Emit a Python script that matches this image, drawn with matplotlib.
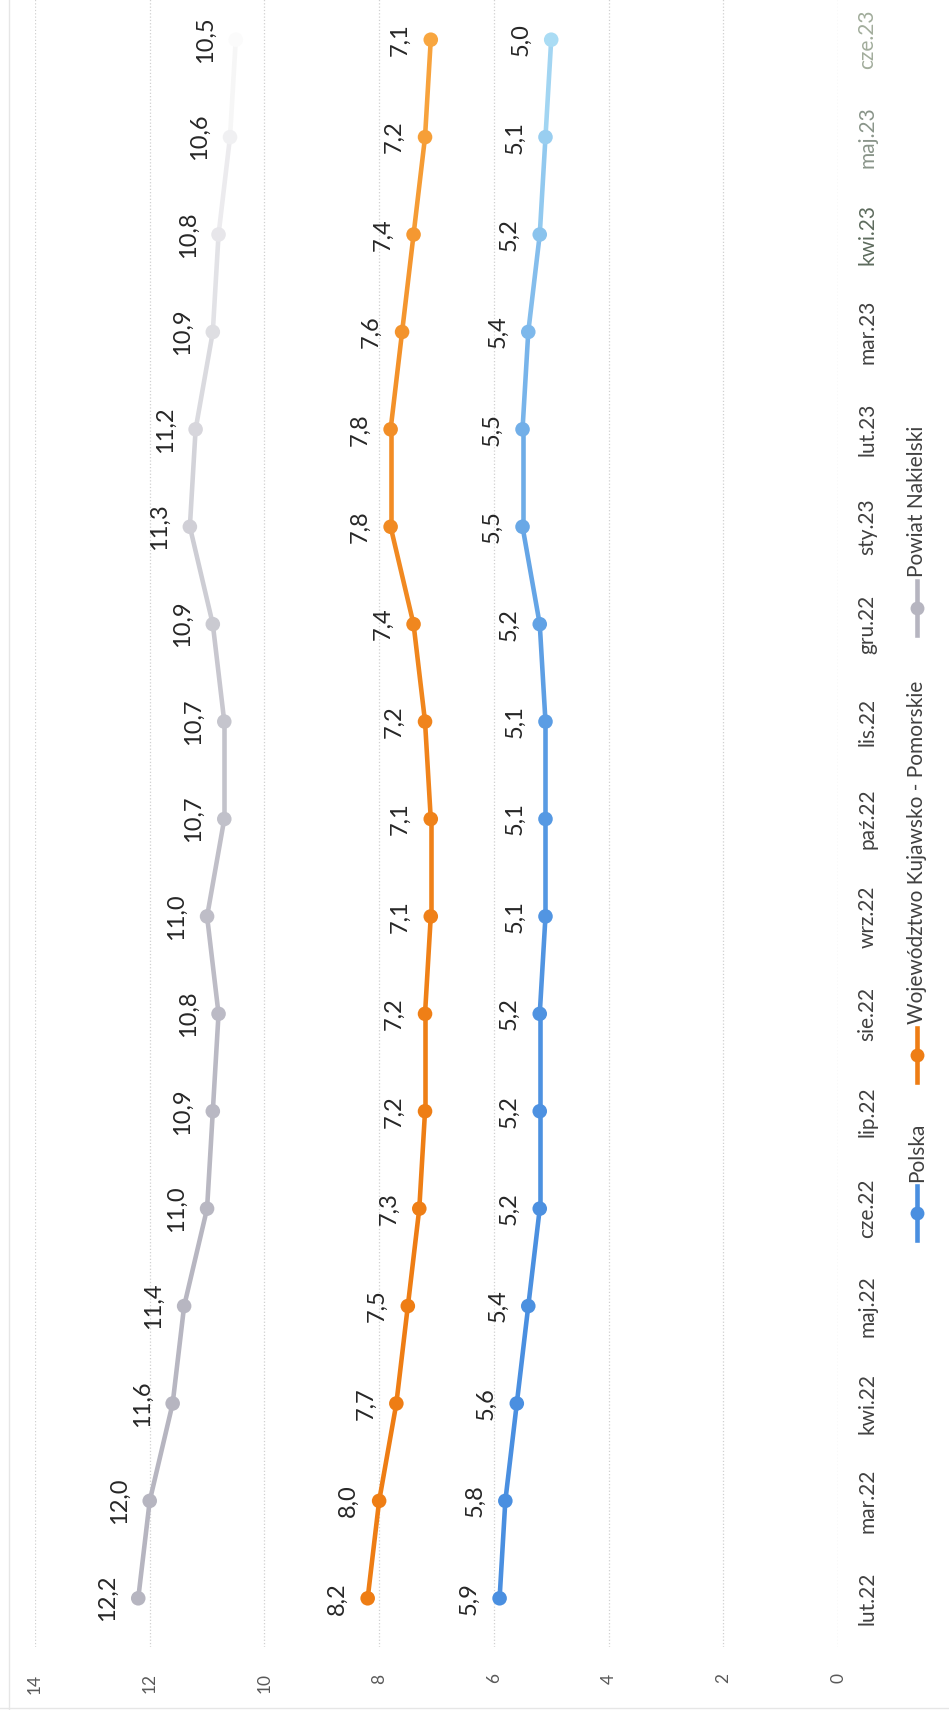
import numpy as np
import matplotlib.pyplot as plt
from matplotlib.collections import LineCollection
from matplotlib.colors import to_rgb
from matplotlib.lines import Line2D

plt.rcParams['font.family'] = ['Lato', 'DejaVu Sans']

months = ["lut.22", "mar.22", "kwi.22", "maj.22", "cze.22", "lip.22", "sie.22", "wrz.22",
          "paź.22", "lis.22", "gru.22", "sty.23", "lut.23", "mar.23", "kwi.23", "maj.23", "cze.23"]
polska = [5.9, 5.8, 5.6, 5.4, 5.2, 5.2, 5.2, 5.1, 5.1, 5.1, 5.2, 5.5, 5.5, 5.4, 5.2, 5.1, 5.0]
wojewodztwo = [8.2, 8.0, 7.7, 7.5, 7.3, 7.2, 7.2, 7.1, 7.1, 7.2, 7.4, 7.8, 7.8, 7.6, 7.4, 7.2, 7.1]
powiat = [12.2, 12.0, 11.6, 11.4, 11.0, 10.9, 10.8, 11.0, 10.7, 10.7, 10.9, 11.3, 11.2, 10.9, 10.8, 10.6, 10.5]
value_ticks = [0, 2, 4, 6, 8, 10, 12, 14]
names = ["Polska", "Województwo Kujawsko - Pomorskie", "Powiat Nakielski"]

# scanned print: colours fade towards the top of the page
start_cols = ['#4a8fe0', '#ee7d14', '#b6b5c0']
end_cols = ['#aadcf4', '#f8a640', '#fbfbfb']
powers = [3.0, 3.0, 2.6]


def ramp(c0, c1, n, p=3.0):
    c0, c1 = np.array(to_rgb(c0)), np.array(to_rgb(c1))
    t = (np.arange(n) / (n - 1)) ** p
    return np.array([c0 + (c1 - c0) * k for k in t])


fig = plt.figure(figsize=(9.49, 17.10), dpi=100)
W, H = 949, 1710
ax = fig.add_axes([35 / W, 63 / H, 803 / W, 1656 / H])

y = np.arange(len(months))
for vals, c0, c1, p in zip([polska, wojewodztwo, powiat], start_cols, end_cols, powers):
    cols = ramp(c0, c1, len(vals), p)
    pts = np.column_stack([vals, y])
    segs = np.stack([pts[:-1], pts[1:]], axis=1)
    seg_cols = (cols[:-1] + cols[1:]) / 2
    ax.add_collection(LineCollection(segs, colors=seg_cols, linewidths=3.3, zorder=3))
    ax.scatter(vals, y, s=110, c=cols, zorder=4, linewidths=0)
    for v, yy in zip(vals, y):
        ax.annotate(f"{v:.1f}".replace('.', ','), (v, yy), xytext=(-22, 0),
                    textcoords='offset points', rotation=90, ha='center', va='center',
                    fontsize=17, color='#262626')

ax.set_xlim(14, 0)
ax.set_ylim(-0.5, len(months) - 0.5)
ax.set_xticks(value_ticks)
ax.set_xticklabels([str(v) for v in value_ticks], rotation=90, fontsize=12.5, color='#595959')
ax.set_yticks(y)
ax.set_yticklabels(months, rotation=90, fontsize=15, va='center', ha='left')
ax.yaxis.tick_right()
month_cols = ['#404040'] * 14 + ['#5d6b5d', '#8a958a', '#a2ad9c']
for lab, c in zip(ax.get_yticklabels(), month_cols):
    lab.set_color(c)
ax.tick_params(axis='x', length=0, pad=19)
ax.tick_params(axis='y', length=0, pad=14)
ax.grid(axis='x', linestyle=':', color='#d0d0d0', linewidth=0.9)
for s in ax.spines.values():
    s.set_visible(False)

# legend, rotated like the rest of the page (pixel rows from the top)
leg_y = [1213, 1055, 608]
xf = 917 / W
for name, c, ym in zip(names, start_cols, leg_y):
    fig.add_artist(Line2D([xf, xf], [(H - ym - 27) / H, (H - ym + 27) / H], color=c,
                          lw=3.3, transform=fig.transFigure))
    fig.add_artist(Line2D([xf], [(H - ym) / H], color=c, marker='o', markersize=10,
                          markeredgewidth=0, transform=fig.transFigure))
    fig.text(xf, (H - ym + 31) / H, name, rotation=90, ha='center', va='bottom',
             fontsize=15, color='#404040')

# faint edge of the scanned sheet
fig.add_artist(Line2D([9 / W, 9 / W], [0, 1], color='#e6e6e6', lw=1, transform=fig.transFigure))
fig.add_artist(Line2D([0, 1], [2 / H, 2 / H], color='#e6e6e6', lw=1, transform=fig.transFigure))

fig.savefig('out.png', dpi=100)
